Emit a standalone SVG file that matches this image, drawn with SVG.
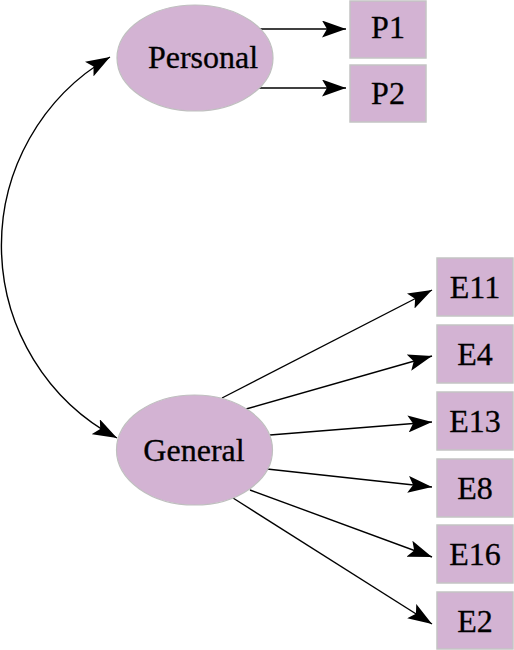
<svg xmlns="http://www.w3.org/2000/svg" width="514" height="650" viewBox="0 0 514 650">
<defs>
<marker id="ah" markerUnits="userSpaceOnUse" markerWidth="24" markerHeight="17" refX="24" refY="8.5" orient="auto-start-reverse" viewBox="0 0 24 17">
<path d="M0,0 L24,8.5 L0,17 L5,8.5 Z" fill="#000"/>
</marker>
<style>
.lv{fill:#d3b3d3;stroke:#bfbfbf;stroke-width:1.2}
.bx{fill:#d3b3d3;stroke:#c4c4c4;stroke-width:1.5}
.t{font-family:"Liberation Serif",serif;font-size:32px;fill:#000;stroke:#000;stroke-width:0.3;text-anchor:middle}
.c{fill:none;stroke:#000;stroke-width:1.4;marker-end:url(#ah)}
</style>
</defs>
<rect width="514" height="650" fill="#fff"/>
<g id="connectors">
<path class="c" d="M110,57 A218,218 0 0 0 117,438" style="marker-start:url(#ah)"/>
<line class="c" x1="258" y1="29" x2="346" y2="29"/>
<line class="c" x1="258" y1="88" x2="346" y2="88"/>
<line class="c" x1="222" y1="398" x2="432" y2="290"/>
<line class="c" x1="246" y1="409" x2="432" y2="356"/>
<line class="c" x1="270" y1="435" x2="432" y2="422"/>
<line class="c" x1="267" y1="469" x2="432" y2="487"/>
<line class="c" x1="250" y1="490" x2="432" y2="557"/>
<line class="c" x1="233" y1="498" x2="432" y2="624"/>
</g>
<g id="Personal"><ellipse class="lv" cx="195" cy="58" rx="78" ry="53"/><text class="t" x="203" y="68">Personal</text></g>
<g id="General"><ellipse class="lv" cx="194.5" cy="450" rx="78" ry="55"/><text class="t" x="194" y="461">General</text></g>
<g id="P1"><rect class="bx" x="350" y="1" width="76" height="57"/><text class="t" x="388" y="38">P1</text></g>
<g id="P2"><rect class="bx" x="350" y="65" width="76" height="57"/><text class="t" x="388" y="104">P2</text></g>
<g id="E11"><rect class="bx" x="437" y="258" width="76" height="58"/><text class="t" x="475" y="298">E11</text></g>
<g id="E4"><rect class="bx" x="437" y="325" width="76" height="58"/><text class="t" x="475" y="365">E4</text></g>
<g id="E13"><rect class="bx" x="437" y="392" width="76" height="58"/><text class="t" x="475" y="432">E13</text></g>
<g id="E8"><rect class="bx" x="437" y="459" width="76" height="58"/><text class="t" x="475" y="499">E8</text></g>
<g id="E16"><rect class="bx" x="437" y="525" width="76" height="58"/><text class="t" x="475" y="565">E16</text></g>
<g id="E2"><rect class="bx" x="437" y="592" width="76" height="57"/><text class="t" x="475" y="632">E2</text></g>
</svg>
